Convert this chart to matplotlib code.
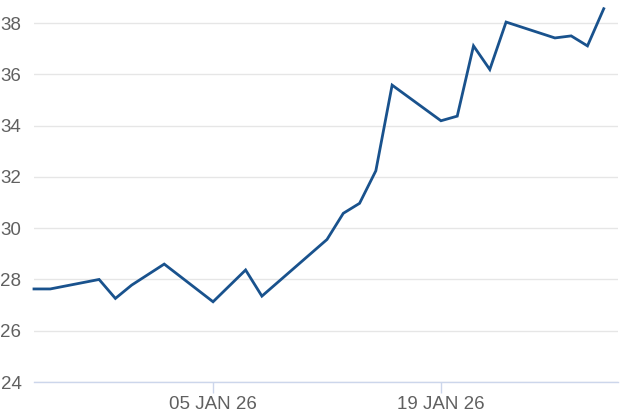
import matplotlib
matplotlib.use("Agg")
import matplotlib.pyplot as plt
import matplotlib.dates as mdates
import pandas as pd

LINE = "#19528d"
TXT = "#606060"
GRID = "#e6e6e6"
AXIS = "#ccd6eb"

dates = pd.to_datetime([
    "2025-12-25", "2025-12-26", "2025-12-29", "2025-12-30", "2025-12-31",
    "2026-01-02", "2026-01-05", "2026-01-07", "2026-01-08", "2026-01-12",
    "2026-01-13", "2026-01-14", "2026-01-15", "2026-01-16", "2026-01-19",
    "2026-01-20", "2026-01-21", "2026-01-22", "2026-01-23", "2026-01-26",
    "2026-01-27", "2026-01-28", "2026-01-29",
])
values = [27.63, 27.63, 28.00, 27.26, 27.78,
          28.60, 27.13, 28.37, 27.35, 29.56,
          30.58, 30.97, 32.24, 35.58, 34.19,
          34.37, 37.11, 36.19, 38.04, 37.42,
          37.50, 37.11, 38.56]
yticks = [24, 26, 28, 30, 32, 34, 36, 38]
xticks = pd.to_datetime(["2026-01-05", "2026-01-19"])
xlabels = ["05 JAN 26", "19 JAN 26"]

plt.rcParams["font.family"] = ["Liberation Sans", "DejaVu Sans"]

fig = plt.figure(figsize=(6.26, 4.17), dpi=100)
ax = fig.add_axes([0.0543, 0.0839, 0.9329, 0.9161])
ax.plot(dates, values, color=LINE, lw=2.0, solid_joinstyle="miter", clip_on=False)

ax.set_ylim(24, 38.9)
ax.set_xlim(dates[0], pd.Timestamp("2026-01-29") + pd.Timedelta(hours=21))
ax.set_yticks(yticks)
ax.set_xticks(xticks)
ax.set_xticklabels(xlabels)
ax.grid(axis="y", color=GRID, lw=1)
ax.set_axisbelow(True)
for s in ["top", "right", "left"]:
    ax.spines[s].set_visible(False)
ax.spines["bottom"].set_color(AXIS)
ax.spines["bottom"].set_linewidth(1)
ax.tick_params(axis="y", length=0, pad=9, labelsize=13.5, labelcolor=TXT)
ax.tick_params(axis="x", length=8, color=AXIS, width=1, pad=2,
               labelsize=13.5, labelcolor=TXT)

fig.savefig("out.png", dpi=100, facecolor="white")
